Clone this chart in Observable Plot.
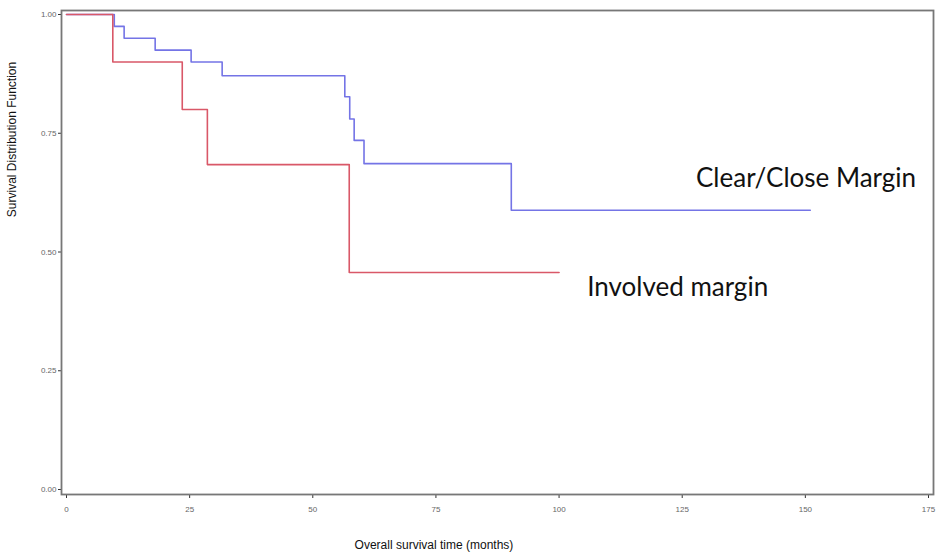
<!DOCTYPE html>
<html>
<head>
<meta charset="utf-8">
<script src="https://cdn.jsdelivr.net/npm/d3@7"></script>
<script src="https://cdn.jsdelivr.net/npm/@observablehq/plot@0.6"></script>
<style>
  html, body { margin: 0; padding: 0; background: #fff; }
  #chart svg { display: block; }
</style>
</head>
<body>
<div id="chart"></div>
<script>
// Kaplan-Meier steps
const clearTimes = [0, 9.7, 11.7, 18, 25.3, 31.6, 56.5, 57.5, 58.4, 60.4, 90.3, 151];
const clearSurv  = [1, 0.975, 0.95, 0.925, 0.90, 0.871, 0.827, 0.78, 0.735, 0.686, 0.588, 0.588];
const involvedTimes = [0, 9.4, 23.5, 28.6, 57.4, 100];
const involvedSurv  = [1, 0.90, 0.80, 0.684, 0.457, 0.457];
const xTicks = [0, 25, 50, 75, 100, 125, 150, 175];
const yTicks = [0, 0.25, 0.5, 0.75, 1];
const seriesNames = ["Clear/Close Margin", "Involved margin"];
const xTitle = "Overall survival time (months)";
const yTitle = "Survival Distribution Function";

const clear = clearTimes.map((t, i) => ({t, s: clearSurv[i]}));
const involved = involvedTimes.map((t, i) => ({t, s: involvedSurv[i]}));

const chart = Plot.plot({
  width: 939,
  height: 555,
  marginLeft: 61,
  marginRight: 6,
  marginTop: 10,
  marginBottom: 61,
  insetLeft: 5,
  insetRight: 5,
  insetTop: 4,
  insetBottom: 5,
  style: {fontFamily: "Liberation Sans, Arial, sans-serif", background: "#fff"},
  x: {domain: [0, 175]},
  y: {domain: [0, 1]},
  marks: [
    Plot.axisX({ticks: xTicks, tickSize: 4, tickPadding: 8, fontSize: 8, stroke: "#333", fill: "#666", label: null, tickFormat: d3.format("d")}),
    Plot.axisY({ticks: yTicks, tickSize: 3, tickPadding: 2, fontSize: 8, stroke: "#333", fill: "#666", label: null, tickFormat: d3.format(".2f")}),
    Plot.lineY(clear, {x: "t", y: "s", curve: "step-after", stroke: "#7474e6", strokeWidth: 1.6}),
    Plot.lineY(involved, {x: "t", y: "s", curve: "step-after", stroke: "#d95868", strokeWidth: 1.6}),
    Plot.frame({stroke: "#777", strokeWidth: 1.8}),
    Plot.text([seriesNames[0]], {x: 127.8, y: 0.636, text: d => d, textAnchor: "start", lineAnchor: "bottom", fontSize: 26, fontFamily: "Lato, sans-serif", fill: "#111"}),
    Plot.text([seriesNames[1]], {x: 105.7, y: 0.408, text: d => d, textAnchor: "start", lineAnchor: "bottom", fontSize: 26, fontFamily: "Lato, sans-serif", fill: "#111"}),
    Plot.text([xTitle], {x: 74.6, frameAnchor: "bottom", dy: 51, text: d => d, fontSize: 12, fill: "#111", lineAnchor: "middle"}),
    Plot.text([yTitle], {frameAnchor: "top-left", dx: -49, dy: 129, text: d => d, rotate: -90, fontSize: 12, fill: "#111", textAnchor: "middle", lineAnchor: "middle"})
  ]
});
document.getElementById("chart").appendChild(chart);
</script>
</body>
</html>
